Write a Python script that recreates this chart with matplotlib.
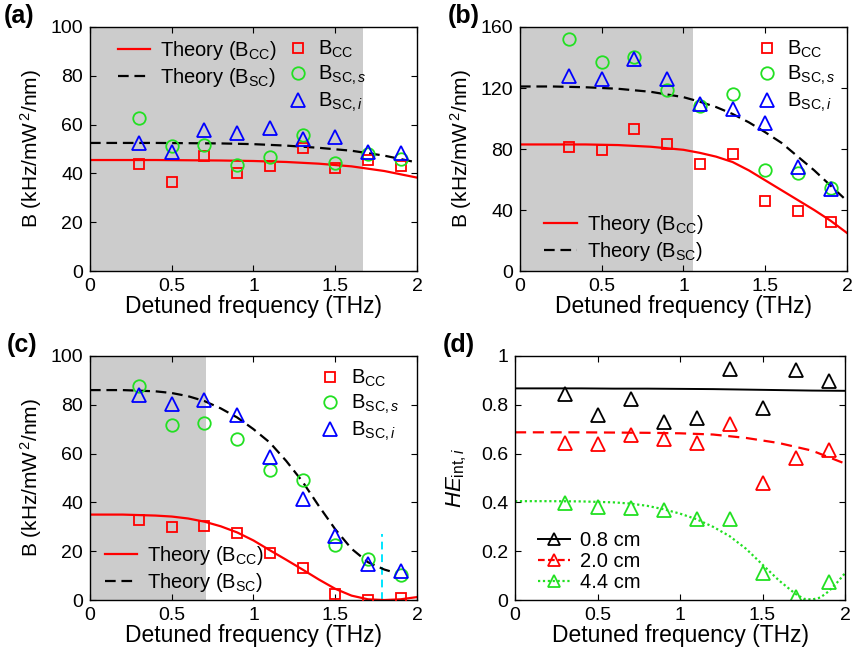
import numpy as np
import matplotlib
matplotlib.use('Agg')
import matplotlib.pyplot as plt
from matplotlib.lines import Line2D

plt.rcParams['font.family'] = ['Liberation Sans', 'DejaVu Sans']
plt.rcParams['mathtext.fontset'] = 'custom'
plt.rcParams['mathtext.rm'] = 'Liberation Sans'
plt.rcParams['mathtext.it'] = 'Liberation Sans:italic'
plt.rcParams['font.size'] = 13

# measured points (THz)
f_meas = [0.3, 0.5, 0.7, 0.9, 1.1, 1.3, 1.5, 1.7, 1.9]

# (a)
a_cc = [43.7, 36.5, 47.0, 40.3, 43.2, 50.4, 42.3, 45.4, 42.9]
a_scs = [62.8, 51.1, 51.8, 43.6, 46.7, 55.6, 44.4, 48.0, 46.0]
a_sci = [52.5, 48.8, 57.7, 56.6, 58.6, 54.2, 54.9, 48.8, 48.4]
a_f_th = [0, 0.2, 0.4, 0.6, 0.8, 1.0, 1.2, 1.4, 1.6, 1.8, 2.0]
a_th_cc = [45.5, 45.5, 45.5, 45.4, 45.3, 45.1, 44.7, 44.0, 42.9, 41.0, 38.3]
a_th_sc = [52.5, 52.5, 52.5, 52.4, 52.3, 52.0, 51.4, 50.5, 49.3, 47.3, 44.5]
a_shade = 1.67

# (b)
b_cc = [81.3, 79.6, 92.9, 83.1, 69.9, 76.5, 45.9, 39.1, 32.1]
b_scs = [152.3, 137.0, 140.0, 118.9, 108.0, 116.0, 66.4, 64.3, 54.6]
b_sci = [127.9, 125.7, 138.8, 126.1, 109.7, 106.4, 97.0, 68.2, 53.8]
b_f_th = [0, 0.2, 0.4, 0.6, 0.8, 1.0, 1.1, 1.2, 1.3, 1.4, 1.5, 1.6, 1.7, 1.8, 1.9, 2.0]
b_th_cc = [83, 83, 83, 82.6, 81.5, 79.5, 77.5, 75, 71.5, 66, 59.5, 53, 46.5, 40, 33, 25]
b_th_sc = [121, 121, 120.5, 119.5, 117.5, 114, 111, 107.5, 103, 97.5, 91, 84, 75, 66, 56, 46]
b_shade = 1.06

# (c)
c_cc = [32.7, 30.1, 30.3, 27.3, 19.1, 13.1, 2.6, 0.0, 0.7]
c_scs = [87.7, 71.7, 72.4, 66.1, 53.4, 49.3, 22.4, 16.7, 10.2]
c_sci = [84.0, 80.2, 82.0, 75.7, 58.7, 41.3, 26.2, 14.6, 11.9]
c_f_th = [0, 0.2, 0.4, 0.5, 0.6, 0.7, 0.8, 0.9, 1.0, 1.1, 1.2, 1.3, 1.4, 1.5, 1.6, 1.7, 1.8, 1.9, 2.0]
c_th_cc = [35, 35, 34.6, 34.2, 33.4, 32.1, 30.2, 27.7, 24.4, 20.4, 16.5, 12.5, 8.4, 4.6, 1.8, 0.3, 0.0, 0.3, 1.2]
c_f_th_sc = [0, 0.2, 0.4, 0.5, 0.6, 0.7, 0.8, 0.9, 1.0, 1.1, 1.2, 1.3, 1.4, 1.5, 1.6, 1.7, 1.8, 1.85]
c_th_sc = [86, 86, 85.5, 84.8, 83.5, 81.5, 78.5, 74.8, 70, 64.5, 57, 48.5, 38.5, 29, 21, 15.5, 12.5, 11.5]
c_shade = 0.71
c_cut_f = 1.785
c_cut_top = 27

# (d)
d_labels = ['0.8 cm', '2.0 cm', '4.4 cm']
d_08 = [0.843, 0.757, 0.822, 0.730, 0.747, 0.945, 0.785, 0.943, 0.898]
d_20 = [0.642, 0.638, 0.676, 0.661, 0.642, 0.723, 0.481, 0.583, 0.615]
d_44 = [0.396, 0.383, 0.378, 0.367, 0.333, 0.331, 0.112, 0.014, 0.074]
d_f_th = [0, 0.2, 0.4, 0.6, 0.8, 1.0, 1.2, 1.4, 1.6, 1.8, 2.0]
d_th_08 = [0.867, 0.867, 0.867, 0.866, 0.866, 0.865, 0.864, 0.862, 0.860, 0.858, 0.857]
d_th_20 = [0.687, 0.687, 0.687, 0.686, 0.685, 0.683, 0.678, 0.664, 0.643, 0.612, 0.559]
d_f_th44 = [0, 0.2, 0.4, 0.6, 0.7, 0.8, 0.9, 1.0, 1.1, 1.2, 1.3, 1.4, 1.5, 1.6, 1.7, 1.75, 1.8, 1.85, 1.9, 1.95, 2.0]
d_th_44 = [0.405, 0.405, 0.404, 0.4, 0.395, 0.386, 0.372, 0.354, 0.331, 0.3, 0.262, 0.21, 0.145, 0.08, 0.025, 0.005, 0.002, 0.01, 0.035, 0.07, 0.11]

RED = '#ff0000'
GREEN = '#22e022'
BLUE = '#0000ff'
GRAY = '#cccccc'
DASH = (0, (4.8, 2.6))
TICK_FS = 14
XLAB_FS = 16.5
YLAB_FS = 15
LEG_FS = 14.5

fig = plt.figure(figsize=(8.52, 6.58), dpi=100)
axa = fig.add_axes([0.1056, 0.588, 0.3838, 0.371])
axb = fig.add_axes([0.6103, 0.588, 0.3838, 0.371])
axc = fig.add_axes([0.1056, 0.0881, 0.3838, 0.371])
axd = fig.add_axes([0.6045, 0.0881, 0.3873, 0.371])

mk = dict(linestyle='none', markerfacecolor='none', markeredgewidth=1.3)


def style(ax, ylim, yticks):
    ax.set_xlim(0, 2)
    ax.set_ylim(*ylim)
    ax.set_xticks([0, 0.5, 1, 1.5, 2])
    ax.set_xticklabels(['0', '0.5', '1', '1.5', '2'])
    ax.set_yticks(yticks)
    ax.tick_params(direction='in', top=True, right=True, length=4, width=0.8, labelsize=TICK_FS)
    ax.tick_params(axis='x', pad=5)
    ax.tick_params(axis='y', pad=5)
    for s in ax.spines.values():
        s.set_linewidth(1.0)
    ax.set_xlabel('Detuned frequency (THz)', fontsize=XLAB_FS, labelpad=0)


def b_panel(ax, cc, scs, sci, f_th, th_cc, f_th_sc, th_sc, shade, ylim, yticks):
    ax.axvspan(0, shade, color=GRAY, lw=0, zorder=0)
    l1, = ax.plot(f_th, th_cc, color=RED, lw=1.6, zorder=2)
    l2, = ax.plot(f_th_sc, th_sc, color='k', lw=1.6, linestyle=DASH, zorder=2)
    m1, = ax.plot(f_meas, cc, marker='s', color=RED, markersize=7, zorder=3, **mk)
    m2, = ax.plot(f_meas, scs, marker='o', color=GREEN, markersize=9, zorder=3, **mk)
    m3, = ax.plot(f_meas, sci, marker='^', color=BLUE, markersize=10.5, zorder=4, **mk)
    style(ax, ylim, yticks)
    ax.set_ylabel('B (kHz/mW$^{\\,2}$/nm)', fontsize=YLAB_FS)
    ax.yaxis.set_label_coords(-0.142, 0.5)
    return (l1, l2), (m1, m2, m3)


lab_lines = ['Theory (B$_{\\rm CC}$)', 'Theory (B$_{\\rm SC}$)']
lab_marks = ['B$_{\\rm CC}$', 'B$_{{\\rm SC},\\mathit{s}}$', 'B$_{{\\rm SC},\\mathit{i}}$']
leg_kw = dict(frameon=False, fontsize=LEG_FS, handletextpad=0.5, borderaxespad=0, labelspacing=0.2)

# (a)
ls, ms = b_panel(axa, a_cc, a_scs, a_sci, a_f_th, a_th_cc, a_f_th, a_th_sc, a_shade,
                 (0, 100), [0, 20, 40, 60, 80, 100])
g1 = axa.legend(ls, lab_lines, loc='upper left', bbox_to_anchor=(0.06, 0.985), handlelength=1.6, **leg_kw)
axa.add_artist(g1)
axa.legend(ms, lab_marks, loc='upper left', bbox_to_anchor=(0.58, 0.985), handlelength=1.0, **leg_kw)

# (b)
ls, ms = b_panel(axb, b_cc, b_scs, b_sci, b_f_th, b_th_cc, b_f_th, b_th_sc, b_shade,
                 (0, 160), [0, 40, 80, 120, 160])
g1 = axb.legend(ls, lab_lines, loc='lower left', bbox_to_anchor=(0.05, 0.0), handlelength=1.6, **leg_kw)
axb.add_artist(g1)
axb.legend(ms, lab_marks, loc='upper left', bbox_to_anchor=(0.7, 0.985), handlelength=1.0, **leg_kw)

# (c)
ls, ms = b_panel(axc, c_cc, c_scs, c_sci, c_f_th, c_th_cc, c_f_th_sc, c_th_sc, c_shade,
                 (0, 100), [0, 20, 40, 60, 80, 100])
axc.plot([c_cut_f, c_cut_f], [0, c_cut_top], color='#00e5ff', lw=1.4, linestyle=(0, (4, 2.5)), zorder=1)
g1 = axc.legend(ls, lab_lines, loc='lower left', bbox_to_anchor=(0.02, -0.01), handlelength=1.6, **leg_kw)
axc.add_artist(g1)
axc.legend(ms, lab_marks, loc='upper left', bbox_to_anchor=(0.68, 0.985), handlelength=1.0, **leg_kw)

# (d)
axd.plot(d_f_th, d_th_08, color='k', lw=1.4)
axd.plot(d_f_th, d_th_20, color=RED, lw=1.6, linestyle=(0, (5, 3)))
axd.plot(d_f_th44, d_th_44, color=GREEN, lw=1.6, linestyle=(0, (1, 1.2)))
axd.plot(f_meas, d_08, marker='^', color='k', markersize=10.5, **mk)
axd.plot(f_meas, d_20, marker='^', color=RED, markersize=10.5, **mk)
axd.plot(f_meas, d_44, marker='^', color=GREEN, markersize=10.5, **mk)
style(axd, (0, 1), [0, 0.2, 0.4, 0.6, 0.8, 1])
axd.set_yticklabels(['0', '0.2', '0.4', '0.6', '0.8', '1'])
axd.set_ylabel('$HE_{{\\rm int},i}$', fontsize=YLAB_FS + 1)
axd.yaxis.set_label_coords(-0.14, 0.5)
hd = [Line2D([], [], color='k', lw=1.4, marker='^', markersize=9, markerfacecolor='none', markeredgewidth=1.3),
      Line2D([], [], color=RED, lw=1.6, linestyle=(0, (3, 1.5)), marker='^', markersize=9, markerfacecolor='none', markeredgewidth=1.3),
      Line2D([], [], color=GREEN, lw=1.6, linestyle=(0, (1, 1.2)), marker='^', markersize=9, markerfacecolor='none', markeredgewidth=1.3)]
axd.legend(hd, d_labels, loc='lower left', bbox_to_anchor=(0.045, 0.0), handlelength=1.6,
           frameon=False, fontsize=LEG_FS, handletextpad=0.5, borderaxespad=0, labelspacing=0.1)

for ax, lab, x, y in [(axa, '(a)', 0.004, 0.975), (axb, '(b)', 0.525, 0.975),
                      (axc, '(c)', 0.008, 0.475), (axd, '(d)', 0.52, 0.475)]:
    fig.text(x, y, lab, fontsize=18, fontweight='bold', va='center', ha='left')

fig.savefig('out.png', dpi=100)
